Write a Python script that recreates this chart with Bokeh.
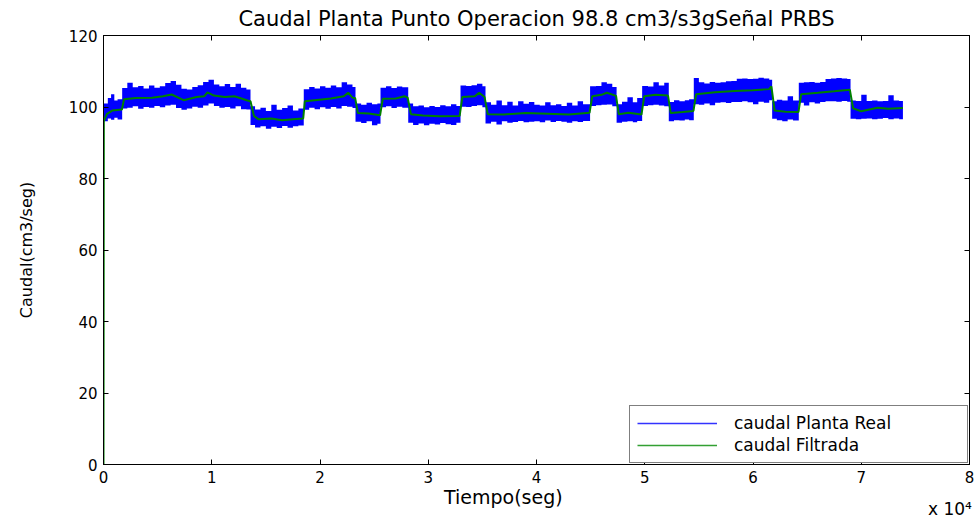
from bokeh.plotting import figure
from bokeh.models import (Range1d, FixedTicker, LinearAxis, Legend, LegendItem)
from bokeh.embed import file_html
from bokeh.resources import INLINE

# ---------------- data ----------------
title_text = "Caudal Planta Punto Operacion 98.8 cm3/s3gSeñal PRBS"
x_label = "Tiempo(seg)"
y_label = "Caudal(cm3/seg)"
x_exponent = "x 10⁴"
x_ticks = [0, 10000, 20000, 30000, 40000, 50000, 60000, 70000, 80000]
x_tick_labels = ["0", "1", "2", "3", "4", "5", "6", "7", "8"]
y_ticks = [0, 20, 40, 60, 80, 100, 120]
series_names = ["caudal Planta Real", "caudal Filtrada"]

# envelope of the noisy real flow (blue band): time, upper, lower
t_env = [0, 400, 700, 1000, 1300,
         1725, 2200, 2700, 3200, 3700, 4200, 4700, 5200, 5700, 6200, 6700, 7200,
         7700, 8200, 8700, 9200, 9700, 10200, 10700, 11200, 11700, 12200, 12700, 13200,
         13580, 14000, 14500, 15000, 15500, 16000, 16500, 17000, 17500, 18000,
         18500, 19000, 19500, 20000, 20500, 21000, 21500, 22000, 22500, 23000,
         23280, 23800, 24300, 24800, 25300,
         25590, 26100, 26600, 27100, 27600,
         28150, 28600, 29100, 29600, 30100, 30600, 31100, 31600, 32100, 32600,
         32980, 33500, 34000, 34500, 35000,
         35290, 35800, 36300, 36800, 37300, 37800, 38300, 38800, 39300, 39800,
         40300, 40800, 41300, 41800, 42300, 42800, 43300, 43800, 44300,
         44950, 45500, 46000, 46500, 47000,
         47400, 47900, 48400, 48900, 49300,
         49760, 50300, 50800, 51300, 51800,
         52220, 52700, 53200, 53700, 54100,
         54530, 55000, 55500, 56000, 56500, 57000, 57500, 58000, 58500, 59000,
         59500, 60000, 60500, 61000, 61500,
         61770, 62200, 62700, 63200, 63700,
         64230, 64700, 65200, 65700, 66200, 66700, 67200, 67700, 68200, 68700,
         69010, 69500, 70000, 70500, 71000, 71500, 72000, 72500, 73000, 73500, 73850]
q_hi = [101.0, 102.5, 103.6, 101.8, 102.2,
        105.3, 106.8, 105.5, 105.9, 105.2, 106.0, 105.4, 105.8, 106.7, 107.3, 106.2, 105.1,
        104.9, 105.6, 106.1, 107.0, 107.6, 106.3, 105.8, 106.4, 105.6, 106.5, 105.4, 104.9,
        100.2, 99.3, 99.8, 98.9, 100.6, 99.2, 99.7, 100.4, 99.0, 99.6,
        105.0, 105.6, 105.2, 105.8, 105.4, 106.0, 105.5, 106.9, 106.3, 105.6,
        101.0, 100.6, 101.2, 100.8, 101.0,
        105.4, 105.8, 105.3, 105.7, 105.5,
        101.0, 100.2, 100.4, 99.9, 100.3, 100.0, 100.5, 100.2, 100.8, 100.3,
        106.0, 105.9, 106.1, 106.5, 105.8,
        101.3, 100.6, 101.8, 100.5, 101.5, 100.4, 101.6, 100.9, 101.4, 100.6,
        100.4, 101.3, 100.5, 100.8, 100.3, 101.2, 100.4, 101.6, 100.8,
        105.8, 105.9, 106.9, 106.5, 105.6,
        100.8, 101.5, 102.7, 101.3, 102.5,
        105.9, 105.7, 106.9, 106.0, 106.8,
        101.4, 101.9, 101.6, 101.9, 102.2,
        108.1, 106.9, 106.6, 107.0, 106.8, 106.9, 107.2, 107.3, 107.9, 108.0,
        107.8, 107.9, 108.2, 108.0, 107.6,
        101.6, 102.0, 101.8, 103.0, 101.8,
        106.8, 106.9, 107.0, 106.8, 107.0, 107.8, 108.0, 108.1, 108.0, 107.8,
        101.8, 101.7, 103.4, 101.7, 101.8, 101.6, 101.7, 103.3, 101.8, 101.7, 101.7]
q_lo = [96.0, 96.8, 96.4, 97.0, 96.5,
        99.6, 99.8, 100.2, 99.5, 100.0, 99.8, 100.3, 99.9, 100.4, 100.6, 99.7, 99.2,
        99.6, 100.1, 99.8, 100.4, 101.0, 100.3, 99.8, 100.0, 99.6, 100.2, 99.4, 99.3,
        95.0, 94.3, 94.6, 93.9, 94.5, 94.1, 94.7, 94.2, 94.6, 94.8,
        99.2, 99.8, 99.4, 99.9, 99.5, 100.0, 99.6, 100.3, 100.1, 99.7,
        95.9, 95.5, 96.0, 94.9, 95.3,
        99.9, 100.2, 99.7, 100.1, 99.8,
        95.6, 95.0, 95.4, 94.9, 95.3, 95.1, 95.5, 95.2, 95.0, 95.6,
        100.1, 100.0, 100.3, 100.5, 99.9,
        95.4, 95.9, 95.1, 96.0, 95.6, 95.8, 96.1, 95.7, 95.9, 96.0,
        95.7, 96.2, 95.8, 96.1, 95.9, 95.6, 96.0, 95.8, 96.1,
        100.3, 100.5, 100.6, 100.7, 100.2,
        95.6, 95.9, 96.0, 95.7, 96.1,
        100.3, 100.5, 100.6, 100.4, 100.2,
        96.0, 96.3, 96.2, 96.5, 96.3,
        100.8, 100.6, 101.0, 100.5, 101.2, 101.3, 101.1, 101.4, 101.4, 101.6,
        101.3, 100.8, 101.5, 101.2, 101.9,
        96.7, 96.3, 96.0, 96.5, 96.2,
        101.2, 100.4, 101.3, 101.0, 101.4, 101.6, 101.6, 101.5, 101.7, 101.5,
        96.7, 96.6, 96.7, 96.8, 96.6, 96.7, 96.9, 96.6, 96.8, 96.6, 96.6]

# filtered flow (green line)
t_filt = [0, 30, 300, 800, 1700,
          1900, 3000, 4500, 5500, 6300, 7400, 8600, 9300, 9600, 10200, 11200, 12100, 13300, 13580,
          13900, 14300, 15500, 16500, 17500, 18450,
          18600, 19500, 21000, 22200, 22600, 23000, 23250,
          23500, 24500, 25550,
          25800, 27000, 27800, 28100,
          28400, 29500, 31000, 32900,
          33150, 34300, 34700, 35200,
          35500, 37000, 39000, 41000, 43000, 44900,
          45150, 46000, 46500, 47350,
          47600, 48500, 49700,
          49950, 51000, 52150,
          52400, 53500, 54500,
          54750, 56500, 58300, 60000, 61500, 61700,
          62000, 63000, 64200,
          64450, 66000, 67500, 68950,
          69250, 70000, 71500, 72500, 73850]
q_filt = [0.0, 96.0, 98.0, 99.0, 99.3,
          102.2, 102.5, 102.6, 103.0, 103.5, 101.9, 102.8, 103.0, 104.1, 103.2, 102.8, 103.0, 101.8, 101.6,
          97.5, 96.6, 96.8, 96.3, 96.6, 96.8,
          101.6, 101.9, 102.4, 103.0, 104.0, 102.6, 102.5,
          98.3, 98.2, 97.7,
          102.3, 102.4, 103.0, 102.6,
          98.0, 97.6, 97.4, 97.5,
          102.8, 103.0, 104.0, 102.8,
          98.0, 97.9, 98.3, 98.1, 97.9, 98.4,
          103.0, 103.4, 104.0, 103.1,
          98.0, 98.4, 97.9,
          103.0, 103.4, 103.2,
          98.3, 98.6, 98.9,
          103.6, 104.1, 104.5, 104.7, 105.0, 105.8,
          99.0, 98.7, 98.6,
          103.6, 104.0, 104.4, 104.8,
          99.6, 98.8, 99.8, 99.5, 99.7]

# ---------------- figure ----------------
FONT = "DejaVu Sans"
p = figure(width=978, height=521, output_backend="svg", toolbar_location=None,
           x_range=Range1d(0, 80000), y_range=Range1d(0, 120),
           min_border_left=103, min_border_right=9, min_border_top=35,
           min_border_bottom=56, background_fill_color="white",
           border_fill_color="white", outline_line_color="black",
           outline_line_width=1)

p.xgrid.visible = False
p.ygrid.visible = False

p.title.text = title_text
p.title.align = "center"
p.title.text_font = FONT
p.title.text_font_size = "21px"
p.title.text_font_style = "normal"
p.title.text_color = "black"
p.title.offset = 0
p.title.standoff = 9

band = p.varea_step(x=t_env, y1=q_lo, y2=q_hi, step_mode="after",
                    fill_color="#0000ff", fill_alpha=1.0)
green = p.line(t_filt, q_filt, line_color="#008000", line_width=2)

# legend proxies (drawn outside the visible range)
leg_blue = p.line([-20000, -10000], [-50, -50], line_color="#3333ff", line_width=1.5)
leg_green = p.line([-20000, -10000], [-50, -50], line_color="#33a033", line_width=1.5)

legend = Legend(items=[LegendItem(label=series_names[0], renderers=[leg_blue]),
                       LegendItem(label=series_names[1], renderers=[leg_green])],
                location="bottom_right", orientation="vertical")
legend.label_text_font = FONT
legend.label_text_font_size = "17px"
legend.label_text_color = "black"
legend.glyph_width = 80
legend.glyph_height = 20
legend.label_height = 20
legend.label_width = 226
legend.label_standoff = 17
legend.spacing = 2
legend.padding = 7
legend.margin = 1
legend.border_line_color = "black"
legend.border_line_width = 1
legend.background_fill_color = "white"
legend.background_fill_alpha = 1.0
p.add_layout(legend)

# axes
for ax in (p.xaxis[0], p.yaxis[0]):
    ax.major_tick_in = 5
    ax.major_tick_out = 0
    ax.minor_tick_in = 0
    ax.minor_tick_out = 0
    ax.axis_line_color = "black"
    ax.major_tick_line_color = "black"
    ax.major_label_text_font = FONT
    ax.major_label_text_font_size = "15px"
    ax.major_label_text_color = "black"
    ax.axis_label_text_font = FONT
    ax.axis_label_text_font_style = "normal"
    ax.axis_label_text_color = "black"

p.xaxis[0].ticker = FixedTicker(ticks=x_ticks)
p.xaxis[0].major_label_overrides = {t: l for t, l in zip(x_ticks, x_tick_labels)}
p.xaxis[0].axis_label = x_label + "\u00a0" * 11
p.xaxis[0].axis_label_text_font_size = "19px"
p.xaxis[0].axis_label_standoff = 0
p.xaxis[0].major_label_standoff = 6

p.yaxis[0].ticker = FixedTicker(ticks=y_ticks)
p.yaxis[0].axis_label = y_label
p.yaxis[0].axis_label_text_font_size = "16px"
p.yaxis[0].axis_label_standoff = 30
p.yaxis[0].major_label_standoff = 6

# second (empty) bottom axis carrying the "x 10^4" multiplier at the right
expo = LinearAxis(ticker=FixedTicker(ticks=[]), axis_line_color=None,
                  major_tick_line_color=None, minor_tick_line_color=None,
                  axis_label="\u00a0" * 153 + x_exponent, axis_label_text_font=FONT,
                  axis_label_text_font_size="17px", axis_label_text_font_style="normal",
                  axis_label_text_color="black", axis_label_standoff=-12)
p.add_layout(expo, "below")

# ticks on top and right (box)
top = LinearAxis(ticker=FixedTicker(ticks=x_ticks), major_tick_in=5, major_tick_out=0,
                 minor_tick_in=0, minor_tick_out=0, major_label_text_font_size="0px",
                 major_label_standoff=0, axis_line_color="black")
top.major_label_overrides = {t: "" for t in x_ticks}
right = LinearAxis(ticker=FixedTicker(ticks=y_ticks), major_tick_in=5, major_tick_out=0,
                   minor_tick_in=0, minor_tick_out=0, major_label_text_font_size="0px",
                   major_label_standoff=0, axis_line_color="black")
right.major_label_overrides = {t: "" for t in y_ticks}
p.add_layout(top, "above")
p.add_layout(right, "right")

open("out.html", "w").write(file_html(p, INLINE))
